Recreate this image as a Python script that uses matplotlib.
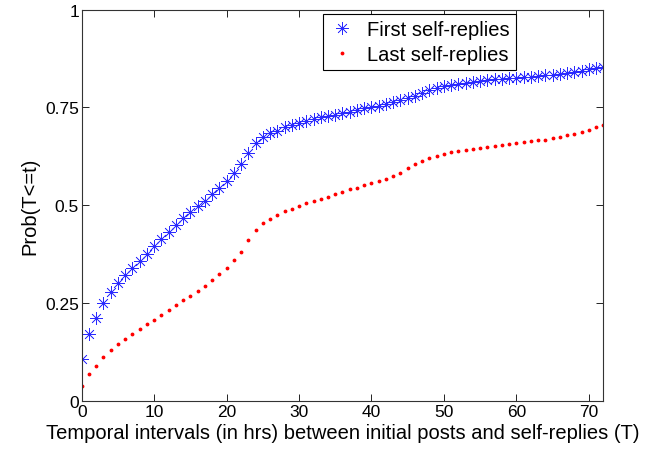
import matplotlib
matplotlib.use('Agg')
import matplotlib.pyplot as plt

plt.rcParams['font.family'] = ['Liberation Sans', 'DejaVu Sans']

hours = list(range(0, 73))

first_replies = [
    0.107, 0.171, 0.212, 0.250, 0.279, 0.302, 0.321, 0.340, 0.357, 0.375,
    0.395, 0.414, 0.431, 0.449, 0.467, 0.483, 0.497, 0.511, 0.528, 0.545,
    0.562, 0.582, 0.606, 0.634, 0.659, 0.675, 0.684, 0.691, 0.699, 0.705,
    0.711, 0.716, 0.720, 0.725, 0.729, 0.731, 0.735, 0.738, 0.743, 0.748,
    0.752, 0.755, 0.758, 0.764, 0.768, 0.774, 0.780, 0.787, 0.794, 0.799,
    0.804, 0.807, 0.810, 0.812, 0.815, 0.818, 0.820, 0.822, 0.824, 0.825,
    0.826, 0.828, 0.829, 0.831, 0.833, 0.834, 0.836, 0.839, 0.841, 0.844,
    0.848, 0.851, 0.854,
]

last_replies = [
    0.038, 0.068, 0.090, 0.111, 0.130, 0.144, 0.158, 0.171, 0.183, 0.195,
    0.207, 0.219, 0.233, 0.245, 0.257, 0.269, 0.281, 0.294, 0.308, 0.323,
    0.339, 0.359, 0.381, 0.411, 0.437, 0.454, 0.466, 0.476, 0.484, 0.491,
    0.498, 0.505, 0.511, 0.517, 0.522, 0.528, 0.535, 0.541, 0.545, 0.551,
    0.557, 0.562, 0.566, 0.575, 0.583, 0.594, 0.605, 0.614, 0.621, 0.627,
    0.631, 0.635, 0.639, 0.642, 0.645, 0.647, 0.649, 0.651, 0.653, 0.656,
    0.659, 0.662, 0.664, 0.666, 0.668, 0.671, 0.675, 0.679, 0.683, 0.688,
    0.693, 0.699, 0.706,
]

x_ticks = [0, 10, 20, 30, 40, 50, 60, 70]
y_ticks = [0, 0.25, 0.5, 0.75, 1]
y_tick_labels = ['0', '0.25', '0.5', '0.75', '1']

fig = plt.figure(figsize=(6.52, 4.56), dpi=100)
ax = fig.add_axes([0.1253, 0.119, 0.8, 0.8575])

# matlab style asterisk: + and x spokes
ax.plot(hours, first_replies, linestyle='none', marker=(8, 2, 0), markersize=9,
        color='#2a2aff', markeredgewidth=0.5, label='First self-replies')
ax.plot(hours, last_replies, linestyle='none', marker='.', markersize=3.5,
        color='#ff0000', label='Last self-replies')

ax.set_xlim(0, 72)
ax.set_ylim(0, 1)
ax.set_xticks(x_ticks)
ax.set_yticks(y_ticks)
ax.set_yticklabels(y_tick_labels)
ax.tick_params(direction='in', top=True, right=True, labelsize=12.5, length=5,
               width=0.6, pad=2)
for s in ax.spines.values():
    s.set_linewidth(0.8)
    s.set_color('#333333')

ax.set_xlabel('Temporal intervals (in hrs) between initial posts and self-replies (T)',
              fontsize=14.5, labelpad=3)
ax.set_ylabel('Prob(T<=t)', fontsize=14.5, labelpad=4)

leg = ax.legend(loc='upper left', bbox_to_anchor=(0.4626, 0.989), borderaxespad=0,
                fontsize=14.5, fancybox=False, framealpha=1, edgecolor='black',
                borderpad=0.3, handletextpad=0.6, labelspacing=0.3, handlelength=1.3)
leg.get_frame().set_linewidth(0.8)

plt.savefig('out.png', dpi=100)
